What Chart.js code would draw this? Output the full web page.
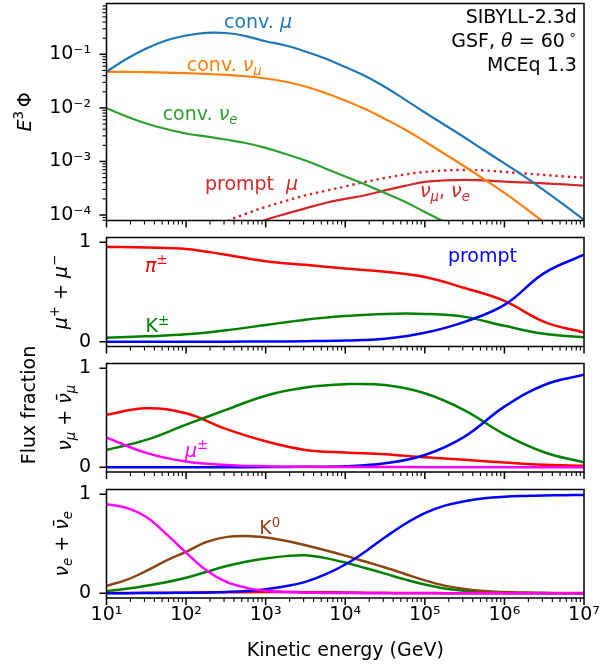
<!DOCTYPE html>
<html>
<head>
<meta charset="utf-8">
<script src="https://cdn.jsdelivr.net/npm/chart.js@4.4.1/dist/chart.umd.min.js"></script>
<style>
  body { margin: 0; background: #fff; }
  #wrap { position: relative; width: 613px; height: 667px; }
  #wrap canvas { position: absolute; left: 0; top: 0; }
</style>
</head>
<body>
<div id="wrap">
  <canvas id="flux" width="613" height="667"></canvas>
  <canvas id="mu" width="613" height="667"></canvas>
  <canvas id="numu" width="613" height="667"></canvas>
  <canvas id="nue" width="613" height="667"></canvas>
</div>
<script>
// energies (GeV)
var eQuarter = [10, 17.8, 31.6, 56.2, 100, 178, 316, 562, 1000, 1780, 3160, 5620, 1e4, 1.78e4, 3.16e4, 5.62e4,
    1e5, 1.78e5, 3.16e5, 5.62e5, 1e6, 1.78e6, 3.16e6, 5.62e6, 1e7];
var eHalf = [10, 31.6, 100, 316, 1000, 3160, 1e4, 3.16e4, 1e5, 3.16e5, 1e6, 3.16e6, 1e7];

// top panel: E^3 * flux
var convMu = [0.0473, 0.0817, 0.128, 0.181, 0.224, 0.252, 0.250, 0.219, 0.175, 0.146, 0.113, 0.0835, 0.0580,
    0.0394, 0.0245, 0.0143, 0.00821, 0.00480, 0.00280, 0.00160, 0.000918, 0.000525, 0.000288, 0.000154, 0.0000810];
var convNuMu = [0.0473, 0.0469, 0.0465, 0.0456, 0.0444, 0.0431, 0.0414, 0.0389, 0.0354, 0.0307, 0.0251, 0.0190,
    0.0137, 0.00954, 0.00621, 0.00395, 0.00236, 0.00138, 0.000806, 0.000461, 0.000258, 0.000139, 0.0000728,
    0.0000390, 0.0000205];
var convNuE = [0.00983, 0.00691, 0.00512, 0.00404, 0.00333, 0.00293, 0.00257, 0.00221, 0.00179, 0.00138, 0.00104,
    0.000740, 0.000525, 0.000372, 0.000258, 0.000176, 0.000114, 0.0000744, 0.0000484, null, null, null, null, null, null];
var promptMu = [null, null, null, null, null, 0.000045, 0.0000743, 0.000105, 0.000142, 0.000183, 0.000232,
    0.000282, 0.000342, 0.000415, 0.000492, 0.000572, 0.000637, 0.000679, 0.000693, 0.000679, 0.000637,
    0.000597, 0.000560, 0.000525, 0.000499];
var promptNu = [null, null, null, null, null, null, null, 0.0000574, 0.0000811, 0.000105, 0.000133, 0.000168,
    0.000200, 0.000234, 0.000288, 0.000349, 0.000415, 0.000443, 0.000452, 0.000443, 0.000420, 0.000406,
    0.000389, 0.000373, 0.000354];

// flux fractions, mu+ + mu-
var muPi = [0.953, 0.948, 0.933, 0.875, 0.81, 0.773, 0.737, 0.703, 0.65, 0.54, 0.41, 0.20, 0.092];
var muK = [0.04, 0.054, 0.074, 0.115, 0.168, 0.222, 0.258, 0.28, 0.28, 0.25, 0.16, 0.08, 0.044];
var muPrompt = [0, 0, 0, 0.001, 0.002, 0.005, 0.012, 0.03, 0.09, 0.2, 0.37, 0.69, 0.875];

// flux fractions, numu + numubar
var numuPi = [0.53, 0.596, 0.545, 0.387, 0.262, 0.175, 0.15, 0.132, 0.10, 0.075, 0.048, 0.025, 0.016];
var numuK = [0.175, 0.276, 0.43, 0.579, 0.723, 0.805, 0.838, 0.831, 0.747, 0.575, 0.333, 0.152, 0.05];
var numuMu = [0.30, 0.145, 0.057, 0.023, 0.01, 0.005, 0.003, 0.002, 0.001, 0.001, 0, 0, 0];
var numuPrompt = [0, 0, 0, 0, 0.002, 0.005, 0.01, 0.04, 0.124, 0.31, 0.612, 0.831, 0.935];

// flux fractions, nue + nuebar
var nueMu = [0.90, 0.862, 0.77, 0.60, 0.41, 0.235, 0.117, 0.057, 0.025, 0.012, 0.006, 0.003, 0.002, 0.001,
    0.001, 0, 0, 0, 0, 0, 0, 0, 0, 0, 0];
var nueK0 = [0.074, 0.135, 0.225, 0.33, 0.418, 0.517, 0.567, 0.578, 0.563, 0.53, 0.485, 0.435, 0.38, 0.32,
    0.26, 0.195, 0.13, 0.077, 0.043, 0.022, 0.012, 0.007, 0.004, 0.003, 0.002];
var nueK = [0.023, 0.045, 0.075, 0.112, 0.157, 0.215, 0.272, 0.318, 0.352, 0.375, 0.384, 0.355, 0.31, 0.255,
    0.198, 0.14, 0.088, 0.048, 0.025, 0.01, 0.004, 0.002, 0.001, 0, 0];
var nuePrompt = [0, 0.001, 0.002, 0.003, 0.005, 0.008, 0.013, 0.022, 0.04, 0.07, 0.115, 0.19, 0.29, 0.42,
    0.565, 0.70, 0.81, 0.885, 0.93, 0.96, 0.975, 0.983, 0.988, 0.991, 0.993];
var nuePi = [0.002, 0.003, 0.004, 0.005, 0.006, 0.008, 0.01, 0.011, 0.012, 0.012, 0.011, 0.01, 0.008, 0.006,
    0.004, 0.003, 0.002, 0.001, 0.001, 0, 0, 0, 0, 0, 0];

// ticks
var xTickValues = [1e1, 1e2, 1e3, 1e4, 1e5, 1e6, 1e7];
var xTickLabels = ["10¹", "10²", "10³", "10⁴", "10⁵", "10⁶", "10⁷"];
var fluxTickValues = [1e-4, 1e-3, 1e-2, 1e-1];
var fluxTickLabels = ["10⁻⁴", "10⁻³", "10⁻²", "10⁻¹"];
var fracTickValues = [0, 1];
var fracTickLabels = ["0", "1"];

var W = 613, H = 667;
var FONT = '"DejaVu Sans", sans-serif';
var FS = 19;
var Y_AXIS_W = 100, X_AXIS_H = 45;

function partFont(p) {
    var st = p[1] || "";
    var small = st.indexOf("sub") >= 0 || st.indexOf("sup") >= 0;
    return (st.charAt(0) === "i" ? "italic " : "") + (small ? FS * 0.7 : FS) + "px " + FONT;
}

// draw a run of text pieces: [text, style], style "", "i", "sub", "isub", "sup"
function rich(ctx, parts, x, y, align) {
    var w = 0;
    parts.forEach(function (p) { ctx.font = partFont(p); w += ctx.measureText(p[0]).width; });
    var cx = align === "right" ? x - w : (align === "center" ? x - w / 2 : x);
    ctx.textAlign = "left";
    ctx.textBaseline = "alphabetic";
    parts.forEach(function (p) {
        var st = p[1] || "";
        var dy = st.indexOf("sub") >= 0 ? FS * 0.22 : (st.indexOf("sup") >= 0 ? -FS * 0.4 : 0);
        ctx.font = partFont(p);
        ctx.fillText(p[0], cx, y + dy);
        cx += ctx.measureText(p[0]).width;
    });
}

function tick(ctx, x1, y1, x2, y2, lw) {
    ctx.lineWidth = lw;
    ctx.beginPath();
    ctx.moveTo(x1, y1);
    ctx.lineTo(x2, y2);
    ctx.stroke();
}

function decor(o) {
    return {
        id: "decor",
        afterDraw: function (chart) {
            var ctx = chart.ctx, a = chart.chartArea, sx = chart.scales.x, sy = chart.scales.y;
            ctx.save();
            ctx.strokeStyle = "#000";
            for (var d = 1; d <= 7; d++) {
                for (var m = 1; m <= 9; m++) {
                    var v = m * Math.pow(10, d);
                    if (v > 1.0001e7) break;
                    var px = sx.getPixelForValue(v);
                    tick(ctx, px, a.bottom, px, a.bottom + (m === 1 ? 7 : 4), m === 1 ? 1.5 : 1.1);
                }
            }
            if (o.logY) {
                for (var e = -5; e <= 0; e++) {
                    for (var k = 1; k <= 9; k++) {
                        var yv = k * Math.pow(10, e);
                        if (yv < sy.min || yv > sy.max) continue;
                        var py = sy.getPixelForValue(yv);
                        tick(ctx, a.left, py, a.left - (k === 1 ? 7 : 4), py, k === 1 ? 1.5 : 1.1);
                    }
                }
            } else {
                fracTickValues.forEach(function (yv) {
                    var py = sy.getPixelForValue(yv);
                    tick(ctx, a.left, py, a.left - 7, py, 1.5);
                });
            }
            ctx.lineWidth = 1.5;
            ctx.strokeRect(a.left, a.top, a.right - a.left, a.bottom - a.top);

            (o.notes || []).forEach(function (n) {
                ctx.fillStyle = n.color;
                rich(ctx, n.parts, sx.getPixelForValue(n.x), sy.getPixelForValue(n.y), n.align || "left");
            });
            (o.titles || []).forEach(function (t) {
                ctx.save();
                ctx.fillStyle = "#000";
                ctx.translate(t.x, t.y === undefined ? (a.top + a.bottom) / 2 : t.y);
                if (t.rot) ctx.rotate(-Math.PI / 2);
                rich(ctx, t.parts, 0, 0, "center");
                ctx.restore();
            });
            ctx.restore();
        }
    };
}

function series(xs, ys, color, width, dash) {
    return {
        data: xs.map(function (x, i) { return { x: x, y: ys[i] }; }),
        borderColor: color,
        borderWidth: width,
        borderDash: dash || [],
        borderCapStyle: "butt",
        fill: false,
        pointRadius: 0,
        tension: 0.4
    };
}

function fixSize(size) {
    return function (s) {
        if (s.isHorizontal()) s.height = size; else s.width = size;
        s.paddingLeft = 0; s.paddingRight = 0; s.paddingTop = 0; s.paddingBottom = 0;
    };
}

function xScale(showLabels) {
    return {
        type: "logarithmic", min: 10, max: 1e7,
        afterFit: fixSize(showLabels ? X_AXIS_H : 0),
        afterBuildTicks: function (s) { s.ticks = xTickValues.map(function (v) { return { value: v }; }); },
        ticks: {
            display: showLabels, autoSkip: false, maxRotation: 0, minRotation: 0, padding: 6, color: "#000",
            font: { family: FONT, size: FS },
            callback: function (v, i) { return xTickLabels[i]; }
        },
        grid: { display: false, drawTicks: false },
        border: { display: false }
    };
}

function yScale(log, min, max) {
    var vals = log ? fluxTickValues : fracTickValues;
    var labs = log ? fluxTickLabels : fracTickLabels;
    return {
        type: log ? "logarithmic" : "linear", min: min, max: max,
        afterFit: fixSize(Y_AXIS_W),
        afterBuildTicks: function (s) { s.ticks = vals.map(function (v) { return { value: v }; }); },
        ticks: {
            autoSkip: false, padding: 15.5, color: "#000",
            font: { family: FONT, size: FS },
            callback: function (v, i) { return labs[i]; }
        },
        grid: { display: false, drawTicks: false },
        border: { display: false }
    };
}

function panel(id, area, log, ymin, ymax, datasets, deco, showX) {
    var xh = showX ? X_AXIS_H : 0;
    return new Chart(document.getElementById(id), {
        type: "line",
        data: { datasets: datasets },
        options: {
            responsive: false, animation: false, devicePixelRatio: 1, events: [],
            layout: { padding: { left: area[0] - Y_AXIS_W, right: W - area[1], top: area[2], bottom: H - area[3] - xh } },
            plugins: { legend: { display: false }, tooltip: { enabled: false } },
            scales: { x: xScale(showX), y: yScale(log, ymin, ymax) }
        },
        plugins: [decor(deco)]
    });
}

var LEFT = 106.5, RIGHT = 584;

panel("flux", [LEFT, RIGHT, 3.5, 220.5], true, 7.9e-5, 0.888, [
    series(eQuarter, convMu, "#1f77b4", 2.2),
    series(eQuarter, convNuMu, "#ff7f0e", 2.2),
    series(eQuarter, convNuE, "#2ca02c", 2.2),
    series(eQuarter, promptNu, "#d62728", 2.2),
    series(eQuarter, promptMu, "#d62728", 2.4, [2.4, 3.8])
], {
    logY: true,
    notes: [
        { parts: [["conv. ", ""], ["μ", "i"]], x: 299, y: 0.305, color: "#1f77b4" },
        { parts: [["conv. ", ""], ["ν", "i"], ["μ", "isub"]], x: 102, y: 0.0494, color: "#ff7f0e" },
        { parts: [["conv. ", ""], ["ν", "i"], ["e", "isub"]], x: 50.8, y: 0.00594, color: "#2ca02c" },
        { parts: [["prompt  ", ""], ["μ", "i"]], x: 172.6, y: 0.000294, color: "#d62728" },
        { parts: [["ν", "i"], ["μ", "isub"], [", ", ""], ["ν", "i"], ["e", "isub"]], x: 86700, y: 0.00022, color: "#d62728" },
        { parts: [["SIBYLL-2.3d", ""]], x: 8.15e6, y: 0.384, color: "#000", align: "right" },
        { parts: [["GSF, ", ""], ["θ", "i"], [" = 60\u2009", ""], ["∘", "sup"]], x: 8.15e6, y: 0.137, color: "#000", align: "right" },
        { parts: [["MCEq 1.3", ""]], x: 8.15e6, y: 0.0488, color: "#000", align: "right" }
    ],
    titles: [{ parts: [["E", "i"], ["3", "sup"], ["\u2009Φ", ""]], x: 31, rot: true }]
}, false);

panel("mu", [LEFT, RIGHT, 237.5, 346.5], false, -0.048, 1.048, [
    series(eHalf, muPrompt, "#0000ff", 2.5),
    series(eHalf, muK, "#008000", 2.5),
    series(eHalf, muPi, "#ff0000", 2.5)
], {
    notes: [
        { parts: [["π", "i"], ["±", "sup"]], x: 30.5, y: 0.704, color: "#ff0000" },
        { parts: [["K", ""], ["±", "sup"]], x: 31, y: 0.094, color: "#008000" },
        { parts: [["prompt", ""]], x: 1.95e5, y: 0.80, color: "#0000ff" }
    ],
    titles: [{ parts: [["μ", "i"], ["+", "sup"], [" + ", ""], ["μ", "i"], ["−", "sup"]], x: 67, rot: true }]
}, false);

panel("numu", [LEFT, RIGHT, 363.5, 472], false, -0.048, 1.048, [
    series(eHalf, numuMu, "#ff00ff", 2.5),
    series(eHalf, numuPrompt, "#0000ff", 2.5),
    series(eHalf, numuK, "#008000", 2.5),
    series(eHalf, numuPi, "#ff0000", 2.5)
], {
    notes: [
        { parts: [["μ", "i"], ["±", "sup"]], x: 96.8, y: 0.107, color: "#ff00ff" }
    ],
    titles: [
        { parts: [["ν", "i"], ["μ", "isub"], [" + ", ""], ["ν\u0304", "i"], ["μ", "isub"]], x: 70.5, rot: true },
        { parts: [["Flux fraction", ""]], x: 35, y: 405, rot: true }
    ]
}, false);

panel("nue", [LEFT, RIGHT, 489.5, 598], false, -0.048, 1.048, [
    series(eQuarter, nueMu, "#ff00ff", 2.5),
    series(eQuarter, nuePrompt, "#0000ff", 2.5),
    series(eQuarter, nueK0, "#8b4513", 2.5),
    series(eQuarter, nueK, "#008000", 2.5),
    series(eQuarter, nuePi, "#ff0000", 2.5)
], {
    notes: [
        { parts: [["K", ""], ["0", "sup"]], x: 832, y: 0.596, color: "#8b4513" }
    ],
    titles: [
        { parts: [["ν", "i"], ["e", "isub"], [" + ", ""], ["ν\u0304", "i"], ["e", "isub"]], x: 68, rot: true },
        { parts: [["Kinetic energy (GeV)", ""]], x: (LEFT + RIGHT) / 2, y: 656 }
    ]
}, true);
</script>
</body>
</html>
